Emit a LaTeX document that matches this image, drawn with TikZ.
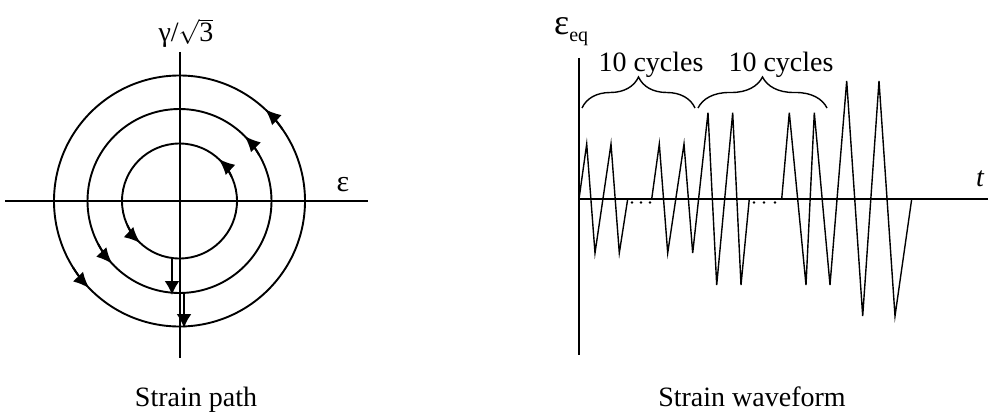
\documentclass[tikz,border=0pt]{standalone}
\usepackage{fontspec}
\setmainfont{Liberation Serif}
\usetikzlibrary{arrows.meta,decorations.pathreplacing}
\begin{document}
\begin{tikzpicture}[x=1pt,y=-1pt,
  axis/.style={line width=2pt},
  ring/.style={line width=1.9pt},
  wave/.style={line width=1.4pt,line join=miter},
  tip/.style={-{Latex[length=16pt,width=14pt]},line width=1.9pt},
  brc/.style={line width=1.4pt,decorate,decoration={brace,amplitude=31pt,aspect=0.5}},
  lbl/.style={inner sep=0pt,font=\fontsize{28}{32}\selectfont}]
\useasboundingbox (0,0) rectangle (988,417);
% ---------- left: strain path ----------
\coordinate (hl) at (5,201);
\coordinate (hr) at (368,201);
\coordinate (vt) at (180,52);
\coordinate (vb) at (180,358);
\draw[axis] (hl) -- (hr);
\draw[axis] (vt) -- (vb);
\begin{scope}[shift={(179.5,201)},yscale=-1]
  \draw[ring] (0,0) circle[radius=57.5];
  \draw[ring] (0,0) circle[radius=92];
  \draw[ring] (0,0) circle[radius=125.5];
  \draw[tip] (25:57.5) arc[start angle=25,end angle=47,radius=57.5];
  \draw[tip] (205:57.5) arc[start angle=205,end angle=227,radius=57.5];
  \draw[tip] (30:92) arc[start angle=30,end angle=45,radius=92];
  \draw[tip] (208:92) arc[start angle=208,end angle=223,radius=92];
  \draw[tip] (35:125.5) arc[start angle=35,end angle=47,radius=125.5];
  \draw[tip] (212:125.5) arc[start angle=212,end angle=224,radius=125.5];
\end{scope}
\coordinate (a1s) at (172,258.5);
\coordinate (a1e) at (172,295);
\coordinate (a2s) at (184,292.5);
\coordinate (a2e) at (184,328);
\draw[tip,-{Latex[length=14pt,width=15pt]}] (a1s) -- (a1e);
\draw[tip,-{Latex[length=14pt,width=15pt]}] (a2s) -- (a2e);
\node[lbl,anchor=base] (gam) at (186,42) {\smash{γ/$\sqrt{\mbox{3}}$}};
\node[lbl,font=\fontsize{30}{34}\selectfont] (eps) at (343,185) {ε};
\node[lbl,anchor=base] (cap1) at (196,406) {Strain path};
% ---------- right: strain waveform ----------
\coordinate (ov) at (579,199);
\coordinate (vt2) at (579,58);
\coordinate (vb2) at (579,355);
\coordinate (hr2) at (988,199);
\draw[axis] (vt2) -- (vb2);
\draw[axis] (ov) -- (hr2);
\draw[wave] (579,199) -- (586.7,144) -- (595,253) -- (611,144) -- (619.3,253) -- (627.7,199);
\draw[wave] (651.7,199) -- (659.3,144) -- (667.7,253) -- (684,144) -- (692.7,253)
  -- (708,112.7) -- (716.7,285) -- (732.7,112.7) -- (741,285) -- (749.3,199);
\draw[wave] (781.7,199) -- (789.3,112.7) -- (806,285) -- (814.3,112.7) -- (830,285)
  -- (846.7,81) -- (862.7,316) -- (879,81) -- (895,316) -- (911.7,199);
\foreach \px in {632,641,650,754,764,775}
  \fill (\px,202.5) circle[radius=1.4pt];
\coordinate (b1s) at (582,108);
\coordinate (b1e) at (695,108);
\coordinate (b2s) at (698,108);
\coordinate (b2e) at (827,108);
\draw[brc] (b1s) -- (b1e);
\draw[brc] (b2s) -- (b2e);
\node[lbl,anchor=base] (c1) at (651,72) {10 cycles};
\node[lbl,anchor=base] (c2) at (781,72) {10 cycles};
\node[lbl,anchor=base west] (epsq) at (554,35) {\fontsize{36}{40}\selectfont ε\raisebox{-7pt}{\fontsize{20}{24}\selectfont eq}};
\node[lbl] (tl) at (980,179) {\itshape t};
\node[lbl,anchor=base] (cap2) at (752,406) {Strain waveform};
\end{tikzpicture}
\end{document}
